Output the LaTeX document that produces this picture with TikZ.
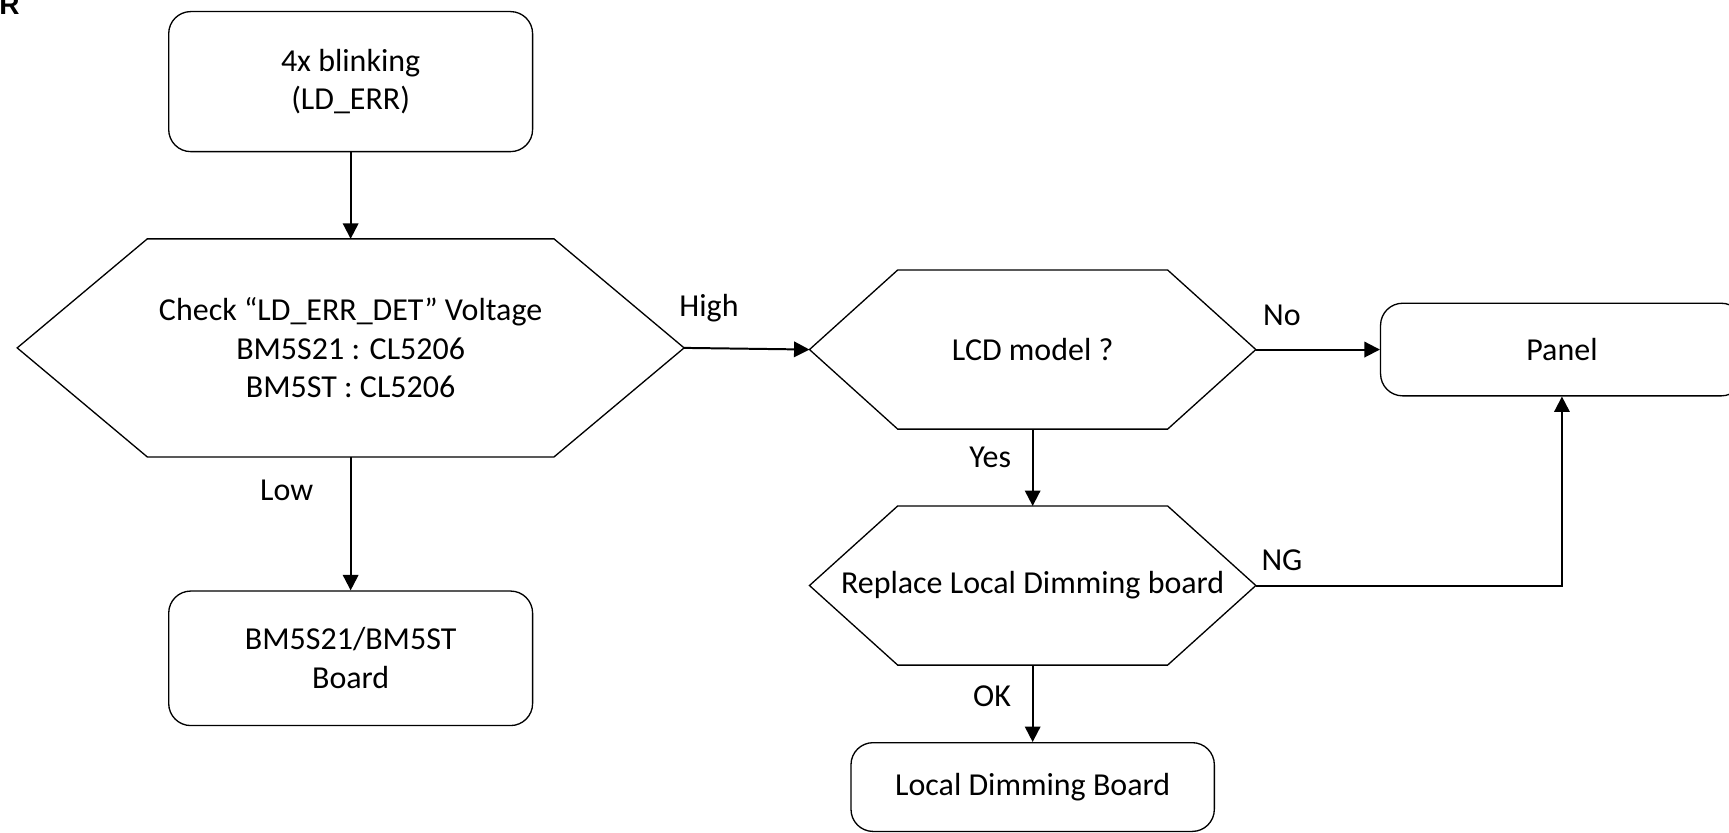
\documentclass[tikz,border=0pt]{standalone}
\usepackage{fontspec}
\setmainfont{Carlito}
\newfontfamily\arialfont{Liberation Sans}
\usetikzlibrary{arrows.meta,calc}
\tikzset{
  txt/.style={font=\fontsize{14.5}{17.5}\selectfont, align=center, inner sep=0pt},
  rbox/.style={txt, draw, line width=0.6pt, rounded corners=10pt},
  hexnode/.style={txt},
  hexline/.style={draw, line width=0.6pt, line join=miter},
  arr/.style={line width=0.9pt, -{Triangle[length=7pt,width=7pt]}},
  lbl/.style={txt}
}
\newcommand{\hexdraw}[2]{%
  \draw[hexline] (#1.west) -- ($(#1.north west)+(#2,0)$) -- ($(#1.north east)-(#2,0)$)
    -- (#1.east) -- ($(#1.south east)-(#2,0)$) -- ($(#1.south west)+(#2,0)$) -- cycle;}
\begin{document}
\begin{tikzpicture}[x=0.5pt,y=-0.5pt]
\useasboundingbox (0,0) rectangle (1568,755);
\node[anchor=base west, inner sep=0pt, font=\arialfont\bfseries\fontsize{12.7}{14}\selectfont] (rtitle) at (-1,13.6) {R};
% nodes
\node[rbox, minimum width=165pt, minimum height=63.5pt] (box1) at (318,74) {4x blinking\\(LD\_ERR)};
\node[hexnode, minimum width=302pt, minimum height=98.5pt] (chk) at (318,315.5) {Check “LD\_ERR\_DET” Voltage\\BM5S21 : CL5206\\BM5ST : CL5206};
\hexdraw{chk}{118}
\node[rbox, minimum width=165pt, minimum height=61pt] (box2) at (318,597) {BM5S21/BM5ST\\Board};
\node[hexnode, minimum width=202pt, minimum height=71.75pt] (lcd) at (936.5,317) {LCD model ?};
\hexdraw{lcd}{80}
\node[hexnode, minimum width=202pt, minimum height=71.75pt] (rep) at (936.5,531) {Replace Local Dimming board};
\hexdraw{rep}{80}
\node[rbox, minimum width=164.5pt, minimum height=42pt] (panel) at (1416.5,317) {Panel};
\node[rbox, minimum width=164.75pt, minimum height=40.25pt] (ldb) at (936.5,713.75) {Local Dimming Board};
% connectors
\draw[arr] (box1.south) -- (chk.north);
\draw[arr] (chk.south) -- (box2.north);
\draw[arr] (chk.east) -- (lcd.west);
\draw[arr] (lcd.east) -- (panel.west);
\draw[arr] (lcd.south) -- (rep.north);
\draw[arr] (rep.east) -| (panel.south);
\draw[arr] (rep.south) -- (ldb.north);
% labels
\node[lbl] (lLow) at (260,445) {Low};
\node[lbl] (lHigh) at (643,279.7) {High};
\node[lbl] (lNo) at (1162.6,285.6) {No};
\node[lbl] (lYes) at (898,414.6) {Yes};
\node[lbl] (lNG) at (1162.6,508) {NG};
\node[lbl] (lOK) at (899.7,631) {OK};
\end{tikzpicture}
\end{document}
